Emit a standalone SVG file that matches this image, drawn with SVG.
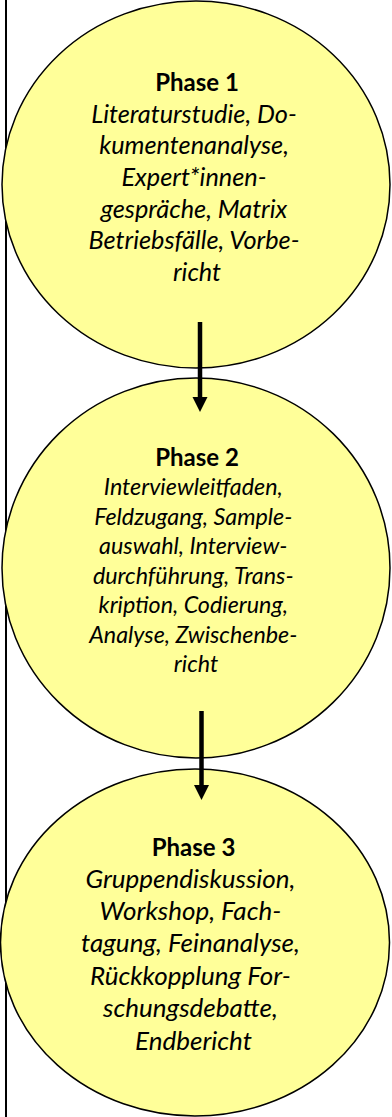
<svg xmlns="http://www.w3.org/2000/svg" width="392" height="1117" viewBox="0 0 392 1117">
<style>
.bg{fill:#ffffff}
.node ellipse{fill:#ffff99;stroke:#000;stroke-width:1.5}
.t{font-family:Lato,"Liberation Sans",sans-serif;fill:#000;text-anchor:middle}
.h{font-weight:bold;font-size:24px}
.b{font-style:italic}
.conn line{stroke:#000;stroke-width:4.5}
.conn polygon{fill:#000}
.frame{stroke:#000;stroke-width:2}
</style>
<rect class="bg" x="0" y="0" width="392" height="1117"/>
<line class="frame" x1="6" y1="0" x2="6" y2="1117"/>
<g id="phase1" class="node">
<ellipse cx="196" cy="184.5" rx="194" ry="183.5"/>
<text class="t h" x="197" y="90.5">Phase 1</text>
<text class="t b" font-size="25.3">
<tspan x="197" y="122.5">Literaturstudie, Do-</tspan>
<tspan x="197" y="154">kumentenanalyse,</tspan>
<tspan x="197" y="186">Expert*innen-</tspan>
<tspan x="197" y="217.5">gespräche, Matrix</tspan>
<tspan x="197" y="249">Betriebsfälle, Vorbe-</tspan>
<tspan x="197" y="281">richt</tspan>
</text>
</g>
<g id="phase2" class="node">
<ellipse cx="196" cy="568" rx="194" ry="190"/>
<text class="t h" x="197" y="466">Phase 2</text>
<text class="t b" font-size="23.3">
<tspan x="196" y="495">Interviewleitfaden,</tspan>
<tspan x="196" y="524.5">Feldzugang, Sample-</tspan>
<tspan x="196" y="554">auswahl, Interview-</tspan>
<tspan x="196" y="583.5">durchführung, Trans-</tspan>
<tspan x="196" y="613">kription, Codierung,</tspan>
<tspan x="196" y="642.5">Analyse, Zwischenbe-</tspan>
<tspan x="196" y="672">richt</tspan>
</text>
</g>
<g id="phase3" class="node">
<ellipse cx="195" cy="942.5" rx="194.5" ry="173.5"/>
<text class="t h" x="193.5" y="855.5">Phase 3</text>
<text class="t b" font-size="26">
<tspan x="193.5" y="887.5">Gruppendiskussion,</tspan>
<tspan x="193.5" y="919.5">Workshop, Fach-</tspan>
<tspan x="193.5" y="952">tagung, Feinanalyse,</tspan>
<tspan x="193.5" y="984.5">Rückkopplung For-</tspan>
<tspan x="193.5" y="1017">schungsdebatte,</tspan>
<tspan x="193.5" y="1049.5">Endbericht</tspan>
</text>
</g>
<g id="connectors" class="conn">
<line x1="200" y1="322" x2="200" y2="399"/>
<polygon points="192.5,397 207.5,397 200,412"/>
<line x1="201.5" y1="711" x2="201.5" y2="787"/>
<polygon points="194,785 209,785 201.5,800"/>
</g>
</svg>
